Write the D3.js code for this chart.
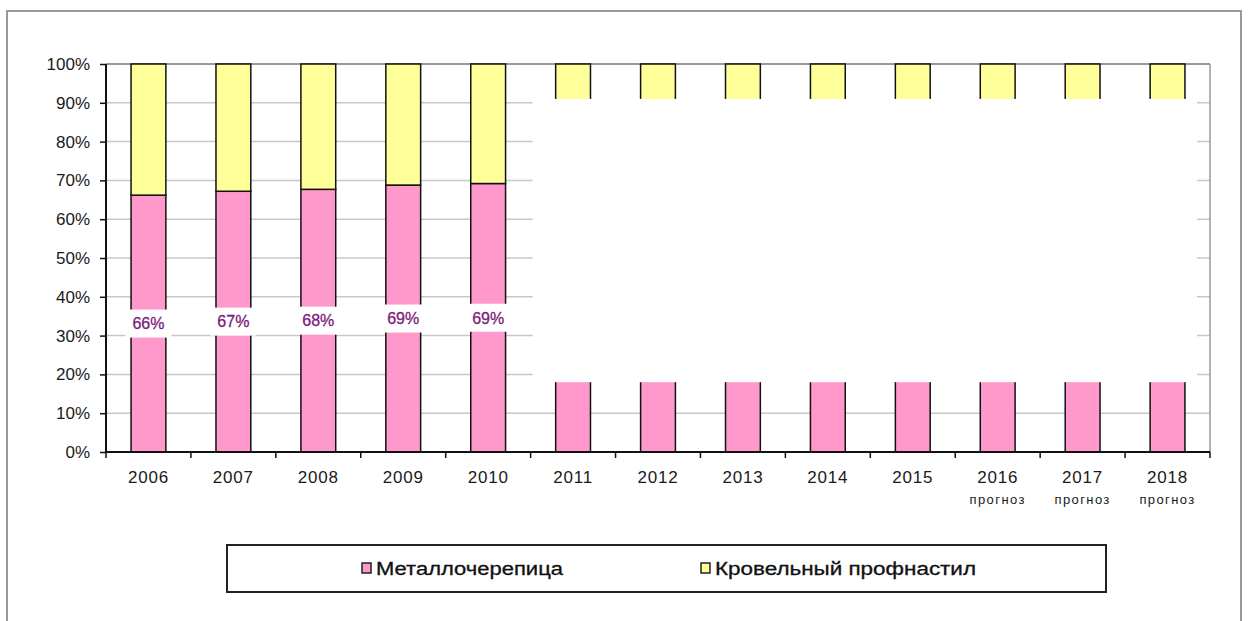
<!DOCTYPE html>
<html>
<head>
<meta charset="utf-8">
<script src="https://cdn.jsdelivr.net/npm/d3@7"></script>
<style>
  body { margin: 0; background: #fff; }
  text { font-family: "Liberation Sans", Arial, sans-serif; }
</style>
</head>
<body>
<script>
var width = 1248,
  height = 621;

// data
var years = ["2006", "2007", "2008", "2009", "2010", "2011", "2012", "2013", "2014", "2015", "2016", "2017", "2018"];
var subLabels = ["", "", "", "", "", "", "", "", "", "", "прогноз", "прогноз", "прогноз"];
var metalTile = [66.2, 67.2, 67.7, 68.8, 69.2, 70, 70, 70, 70, 70, 70, 70, 70];
var showLabel = [true, true, true, true, true, false, false, false, false, false, false, false, false];
var seriesNames = ["Металлочерепица", "Кровельный профнастил"];
var seriesColors = ["#ff99cc", "#ffff99"];
var yTicks = [0, 10, 20, 30, 40, 50, 60, 70, 80, 90, 100];
// hidden band over forecast years (percent range)
var maskRange = [18, 91];

var margin = {left: 106, top: 64, right: 38, bottom: 169};
var plotW = width - margin.left - margin.right,
  plotH = height - margin.top - margin.bottom;

var svg = d3.select("body").append("svg")
  .attr("width", width)
  .attr("height", height);

// outer frame
svg.append("rect")
  .attr("x", 7).attr("y", 11)
  .attr("width", 1234).attr("height", 640)
  .attr("fill", "none")
  .attr("stroke", "#9a9a9a")
  .attr("stroke-width", 2);

var g = svg.append("g")
  .attr("transform", "translate(" + margin.left + "," + margin.top + ")");

var x = d3.scaleBand()
  .domain(years)
  .range([0, plotW])
  .paddingInner(0.59)
  .paddingOuter(0.295);

var y = d3.scaleLinear()
  .domain([0, 100])
  .range([plotH, 0]);

// gridlines
g.selectAll(".grid")
  .data(yTicks.filter(function(d){ return d > 0; }))
  .enter().append("line")
  .attr("x1", 0).attr("x2", plotW)
  .attr("y1", function(d){ return y(d); })
  .attr("y2", function(d){ return y(d); })
  .attr("stroke", function(d){ return d == 100 ? "#999" : "#c8c8c8"; })
  .attr("stroke-width", function(d){ return d == 100 ? 2 : 1.5; });

// right border of plot area
g.append("line")
  .attr("x1", plotW).attr("x2", plotW)
  .attr("y1", 0).attr("y2", plotH)
  .attr("stroke", "#999").attr("stroke-width", 1.5);

var stacked = years.map(function(yr, i) {
  return {year: yr, a: metalTile[i], b: 100 - metalTile[i], label: showLabel[i]};
});

// bars
var bars = g.selectAll(".bar")
  .data(stacked)
  .enter().append("g");

bars.append("rect")
  .attr("x", function(d){ return x(d.year); })
  .attr("width", x.bandwidth())
  .attr("y", function(d){ return y(d.a); })
  .attr("height", function(d){ return y(0) - y(d.a); })
  .attr("fill", seriesColors[0])
  .attr("stroke", "#111")
  .attr("stroke-width", 1.5);

bars.append("rect")
  .attr("x", function(d){ return x(d.year); })
  .attr("width", x.bandwidth())
  .attr("y", y(100))
  .attr("height", function(d){ return y(d.a) - y(100); })
  .attr("fill", seriesColors[1])
  .attr("stroke", "#111")
  .attr("stroke-width", 1.5);

// white mask over hidden years
var firstHidden = years[showLabel.indexOf(false)];
var maskX = x(firstHidden) - x.step() * x.paddingInner() / 2 + 2;
g.append("rect")
  .attr("x", maskX)
  .attr("width", plotW - 13 - maskX)
  .attr("y", y(maskRange[1]))
  .attr("height", y(maskRange[0]) - y(maskRange[1]))
  .attr("fill", "#fff");

// value labels
var lab = g.selectAll(".vlabel")
  .data(stacked.filter(function(d){ return d.label; }))
  .enter().append("g")
  .attr("transform", function(d){
    return "translate(" + (x(d.year) + x.bandwidth() / 2) + "," + y(d.a / 2) + ")";
  });
lab.append("rect")
  .attr("x", -23).attr("y", -14)
  .attr("width", 46).attr("height", 28)
  .attr("fill", "#fff");
lab.append("text")
  .attr("text-anchor", "middle")
  .attr("dy", "0.36em")
  .attr("font-size", 16)
  .attr("fill", "#7b1a7b")
  .attr("stroke", "#7b1a7b")
  .attr("stroke-width", 0.3)
  .text(function(d){ return Math.round(d.a) + "%"; });

// y axis
var yAxis = g.append("g")
  .call(d3.axisLeft(y)
    .tickValues(yTicks)
    .tickSize(6)
    .tickPadding(10)
    .tickFormat(function(d){ return d + "%"; }));
yAxis.select(".domain").attr("stroke", "#111").attr("stroke-width", 2).attr("d", "M0," + plotH + "V0");
yAxis.selectAll(".tick line").attr("stroke", "#111").attr("stroke-width", 1.5);
yAxis.selectAll(".tick text").attr("font-size", 17).attr("fill", "#1a1a1a")
  .attr("font-family", "Liberation Sans, Arial, sans-serif");

// x axis
var xAxis = g.append("g")
  .attr("transform", "translate(0," + plotH + ")");
xAxis.append("line")
  .attr("x1", 0).attr("x2", plotW)
  .attr("stroke", "#111").attr("stroke-width", 2);
xAxis.selectAll(".xt")
  .data(d3.range(years.length + 1))
  .enter().append("line")
  .attr("x1", function(i){ return i * x.step(); })
  .attr("x2", function(i){ return i * x.step(); })
  .attr("y1", 0).attr("y2", 6)
  .attr("stroke", "#111").attr("stroke-width", 1.5);
xAxis.selectAll(".xl")
  .data(years)
  .enter().append("text")
  .attr("x", function(d){ return x(d) + x.bandwidth() / 2; })
  .attr("y", 31)
  .attr("text-anchor", "middle")
  .attr("font-size", 17)
  .attr("letter-spacing", 0.8)
  .attr("fill", "#1a1a1a")
  .text(function(d){ return d; });
xAxis.selectAll(".xs")
  .data(years)
  .enter().append("text")
  .attr("x", function(d){ return x(d) + x.bandwidth() / 2; })
  .attr("y", 52)
  .attr("text-anchor", "middle")
  .attr("font-size", 13)
  .attr("letter-spacing", 1.4)
  .attr("fill", "#1a1a1a")
  .text(function(d, i){ return subLabels[i]; });

// legend
var legend = svg.append("g");
legend.append("rect")
  .attr("x", 227).attr("y", 545)
  .attr("width", 879).attr("height", 47)
  .attr("fill", "#fff")
  .attr("stroke", "#222")
  .attr("stroke-width", 2);

var legendX = [362, 701];
var legendW = [187, 261];
var items = legend.selectAll(".li")
  .data(seriesNames)
  .enter().append("g")
  .attr("transform", function(d, i){ return "translate(" + legendX[i] + ",569)"; });
items.append("rect")
  .attr("x", 0).attr("y", -6)
  .attr("width", 9).attr("height", 10)
  .attr("fill", function(d, i){ return seriesColors[i]; })
  .attr("stroke", "#222")
  .attr("stroke-width", 1.5);
items.append("text")
  .attr("x", 14)
  .attr("y", 6)
  .attr("font-size", 18)
  .attr("fill", "#111")
  .attr("stroke", "#111")
  .attr("stroke-width", 0.3)
  .attr("textLength", function(d, i){ return legendW[i]; })
  .attr("lengthAdjust", "spacingAndGlyphs")
  .text(function(d){ return d; });
</script>
</body>
</html>
